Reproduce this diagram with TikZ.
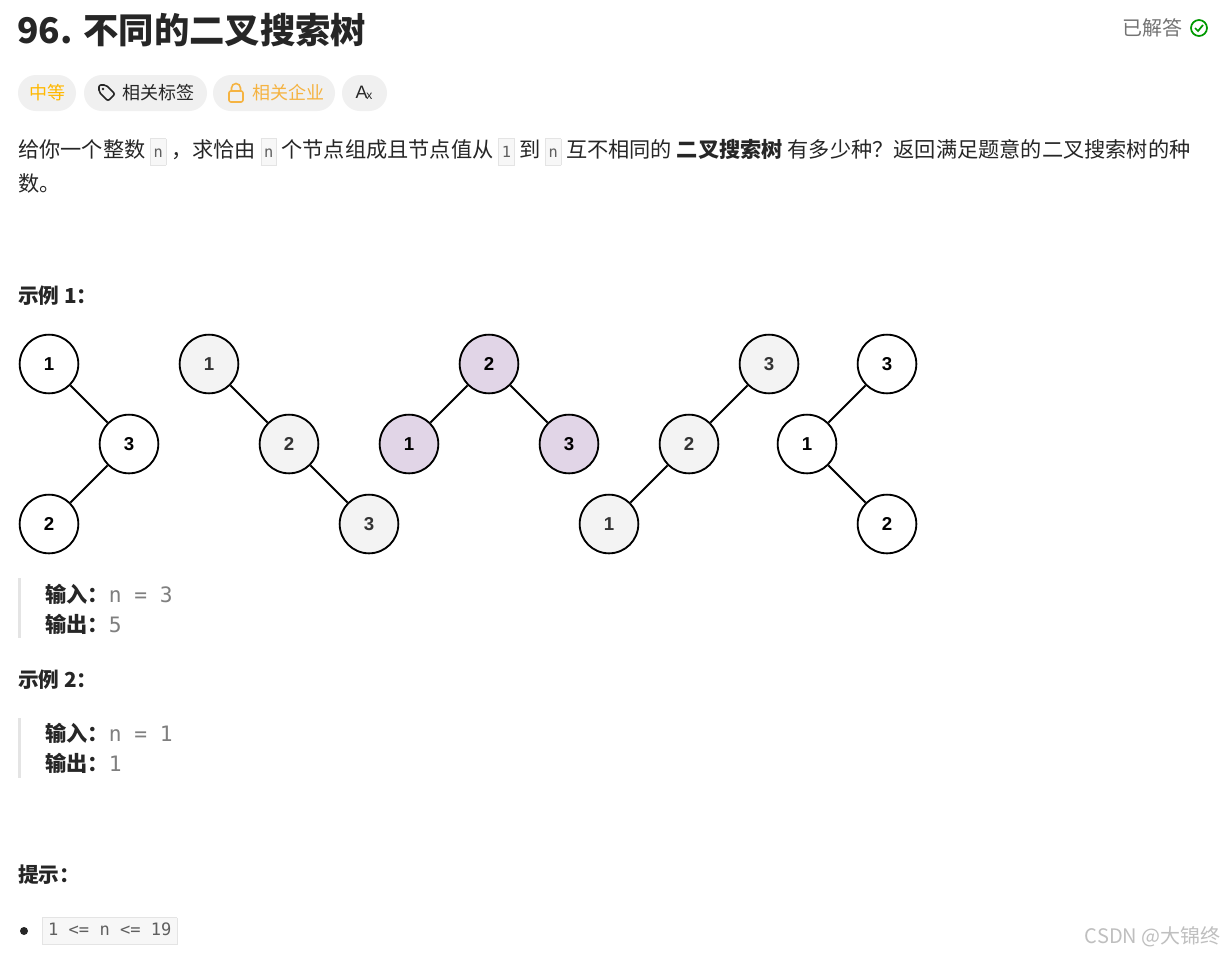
\documentclass[tikz,border=0pt]{standalone}
\usepackage{fontspec}
\setmainfont{Noto Sans CJK SC}
\setmonofont{DejaVu Sans Mono}
\newfontfamily\latinf{Liberation Sans}
\definecolor{chipb}{HTML}{E4E4E4}
\definecolor{chipf}{HTML}{F7F7F7}
\definecolor{pill}{HTML}{F0F0F0}
\definecolor{txt}{HTML}{262626}
\definecolor{orng}{HTML}{FFB800}
\definecolor{lorng}{HTML}{F5B341}
\definecolor{gryn}{HTML}{F3F3F3}
\definecolor{purp}{HTML}{E1D5E7}
\definecolor{monog}{HTML}{5F5F5F}
\newcommand\cchip[1]{{\setlength{\fboxsep}{2pt}\setlength{\fboxrule}{0.6pt}\fcolorbox{chipb}{chipf}{\vphantom{Ay}\ttfamily\color{monog}\fontsize{11.5}{13}\selectfont #1}}}
\tikzset{
 x=0.75pt,y=-0.75pt,
 tn/.style={circle,draw=black,line width=1.4pt,minimum size=44pt,inner sep=0pt,font=\latinf\bfseries\fontsize{14}{16}\selectfont},
 wn/.style={tn,fill=white},
 gn/.style={tn,fill=gryn,text=black!80},
 pn/.style={tn,fill=purp},
 edge/.style={line width=1.4pt},
 pillst/.style={fill=pill,rounded corners=13.5pt,draw=none},
 txtn/.style={anchor=west,inner sep=0pt,text=txt,font=\fontsize{15.9}{18}\selectfont},
 hd/.style={txtn,font=\bfseries\fontsize{15.5}{17}\selectfont},
 bar/.style={fill=chipb,draw=none},
}
\begin{document}
\begin{tikzpicture}
\useasboundingbox[fill=white] (0,0) rectangle (1225,957);
% title
\node[txtn,font=\bfseries\fontsize{26.5}{30}\selectfont] (title) at (17,30) {96. 不同的二叉搜索树};
\node[anchor=east,inner sep=0pt,text=black!55,font=\fontsize{15}{17}\selectfont] (solved) at (1183,28) {已解答};
\draw[color=green!60!black,line width=1.3pt] (1199,28) circle (8);
\draw[color=green!60!black,line width=1.3pt] (1195,28) -- (1198,31) -- (1203,25);
% pills
\fill[pillst] (18,75) rectangle (76,111);
\node[anchor=center,text=orng,font=\fontsize{13.5}{15}\selectfont] (p1) at (47,93) {中等};
\fill[pillst] (84,75) rectangle (207,111);
\node[anchor=west,inner sep=0pt,text=txt,font=\fontsize{13.5}{15}\selectfont] (p2) at (122,93) {相关标签};
\draw[line width=1.2pt,rounded corners=1.5pt,txt] (99,85) -- (106,85) -- (115,94) -- (108,101) -- (99,92) -- cycle;
\fill[txt] (103,89) circle (1.3);
\fill[pillst] (213,75) rectangle (335,111);
\node[anchor=west,inner sep=0pt,text=lorng,font=\fontsize{13.5}{15}\selectfont] (p3) at (252,93) {相关企业};
\draw[line width=1.2pt,lorng,rounded corners=1.5pt] (229,91) rectangle (243,102);
\draw[line width=1.2pt,lorng] (231.5,91) -- (231.5,88) arc (180:360:4.5) -- (240.5,91);
\fill[pillst] (342,75) rectangle (387,111);
\node[text=txt,font=\latinf\fontsize{13.5}{15}\selectfont] (p4) at (364,93) {A\kern-1pt\raisebox{-1pt}{\small x}};
% description
\node[txtn] (d1) at (18,152) {给你一个整数 \cchip{n} ，求恰由 \cchip{n} 个节点组成且节点值从 \cchip{1} 到 \cchip{n} 互不相同的 \textbf{二叉搜索树} 有多少种？返回满足题意的二叉搜索树的种};
\node[txtn] (d2) at (18,183) {数。};
\node[hd] (ex1) at (18,296) {示例 1：};
% trees
\node[wn] (a1) at (49,364) {1};
\node[wn] (a3) at (129,444) {3};
\node[wn] (a2) at (49,524) {2};
\draw[edge] (a1) -- (a3) (a3) -- (a2);
\node[gn] (b1) at (209,364) {1};
\node[gn] (b2) at (289,444) {2};
\node[gn] (b3) at (369,524) {3};
\draw[edge] (b1) -- (b2) (b2) -- (b3);
\node[pn] (c2) at (489,364) {2};
\node[pn] (c1) at (409,444) {1};
\node[pn] (c3) at (569,444) {3};
\draw[edge] (c2) -- (c1) (c2) -- (c3);
\node[gn] (e3) at (769,364) {3};
\node[gn] (e2) at (689,444) {2};
\node[gn] (e1) at (609,524) {1};
\draw[edge] (e3) -- (e2) (e2) -- (e1);
\node[wn] (f3) at (887,364) {3};
\node[wn] (f1) at (807,444) {1};
\node[wn] (f2) at (887,524) {2};
\draw[edge] (f3) -- (f1) (f1) -- (f2);
% example 1 block
\fill[bar] (18,578) rectangle (21,638);
\node[txtn] (i1) at (45,594) {\textbf{输入：}\ttfamily\color{monog!80}n = 3};
\node[txtn] (o1) at (45,624) {\textbf{输出：}\ttfamily\color{monog!80}5};
\node[hd] (ex2) at (18,680) {示例 2：};
\fill[bar] (18,718) rectangle (21,778);
\node[txtn] (i2) at (45,733) {\textbf{输入：}\ttfamily\color{monog!80}n = 1};
\node[txtn] (o2) at (45,763) {\textbf{输出：}\ttfamily\color{monog!80}1};
\node[hd] (hint) at (18,875) {提示：};
\fill[txt] (24,931) circle (4);
\node[anchor=west,inner sep=0pt] (c) at (42,931) {\setlength{\fboxsep}{4pt}\fcolorbox{chipb}{chipf}{\vphantom{Ay}\ttfamily\color{monog}\fontsize{12.8}{14}\selectfont 1 <= n <= 19}};
\node[anchor=east,inner sep=0pt,text=black!25,font=\fontsize{15}{17}\selectfont] (wm) at (1221,937) {CSDN @大锦终};
\end{tikzpicture}
\end{document}
